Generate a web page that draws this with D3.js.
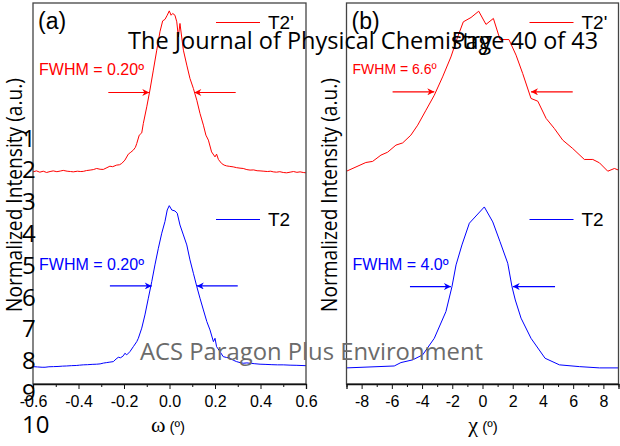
<!DOCTYPE html>
<html><head><meta charset="utf-8">
<script src="https://cdn.jsdelivr.net/npm/d3@7"></script>
<style>body{margin:0;background:#fff}svg{display:block}</style>
</head><body><svg id="c" width="620" height="446"></svg>
<script>
// ---------- data ----------
const omegaX_T2p = [-0.600,-0.585,-0.570,-0.555,-0.540,-0.525,-0.511,-0.495,-0.480,-0.467,-0.450,-0.435,-0.423,-0.405,-0.390,-0.379,-0.365,-0.349,-0.335,-0.320,-0.305,-0.291,-0.275,-0.262,-0.250,-0.232,-0.220,-0.210,-0.196,-0.181,-0.170,-0.159,-0.150,-0.144,-0.133,-0.122,-0.115,-0.100,-0.086,-0.071,-0.056,-0.042,-0.030,-0.020,-0.010,-0.001,0.007,0.014,0.024,0.032,0.039,0.046,0.061,0.076,0.090,0.105,0.120,0.134,0.149,0.160,0.171,0.185,0.200,0.207,0.215,0.229,0.240,0.251,0.265,0.280,0.295,0.310,0.324,0.340,0.354,0.370,0.385,0.398,0.415,0.430,0.445,0.456,0.470,0.485,0.500,0.515,0.530,0.545,0.560,0.574,0.588,0.600];
const omegaY_T2p = [0.008,0.014,0.006,0.012,0.004,0.010,0.014,0.009,0.013,0.017,0.012,0.010,0.008,0.012,0.010,0.011,0.016,0.019,0.022,0.029,0.024,0.023,0.034,0.043,0.040,0.050,0.052,0.060,0.081,0.118,0.130,0.143,0.160,0.184,0.236,0.250,0.309,0.412,0.516,0.640,0.764,0.878,0.946,0.955,0.981,1.008,0.981,0.992,0.981,0.940,0.847,0.930,0.764,0.671,0.588,0.526,0.453,0.371,0.298,0.236,0.205,0.132,0.101,0.118,0.085,0.060,0.050,0.045,0.042,0.039,0.034,0.031,0.029,0.022,0.019,0.020,0.015,0.014,0.012,0.010,0.012,0.008,0.006,0.009,0.004,0.002,0.006,0.010,0.005,0.008,0.004,0.002];

const omegaX_T2 = [-0.600,-0.580,-0.560,-0.547,-0.530,-0.510,-0.490,-0.470,-0.452,-0.430,-0.410,-0.395,-0.379,-0.360,-0.340,-0.320,-0.305,-0.290,-0.276,-0.262,-0.247,-0.235,-0.225,-0.215,-0.203,-0.196,-0.188,-0.174,-0.159,-0.144,-0.137,-0.122,-0.108,-0.093,-0.078,-0.064,-0.049,-0.034,-0.020,-0.010,-0.001,0.010,0.024,0.034,0.046,0.061,0.076,0.090,0.105,0.120,0.134,0.149,0.164,0.178,0.193,0.200,0.207,0.222,0.236,0.250,0.266,0.280,0.295,0.310,0.324,0.340,0.354,0.375,0.398,0.420,0.450,0.475,0.500,0.530,0.560,0.596,0.600];
const omegaY_T2 = [0.008,0.006,0.004,0.004,0.007,0.008,0.009,0.011,0.012,0.014,0.015,0.017,0.019,0.020,0.022,0.023,0.025,0.030,0.033,0.036,0.039,0.055,0.066,0.063,0.075,0.091,0.081,0.101,0.132,0.163,0.184,0.247,0.329,0.433,0.536,0.640,0.743,0.837,0.909,0.981,1.008,0.981,0.975,0.961,0.888,0.826,0.764,0.671,0.588,0.505,0.433,0.360,0.288,0.236,0.163,0.184,0.132,0.101,0.070,0.065,0.060,0.048,0.039,0.033,0.029,0.031,0.029,0.026,0.023,0.022,0.020,0.019,0.019,0.017,0.016,0.014,0.014];

const chiX_T2p = [-9.00,-7.72,-7.27,-6.72,-6.28,-5.73,-5.28,-4.74,-4.29,-3.74,-3.19,-2.64,-2.09,-1.64,-1.27,-0.76,-0.25,0.23,0.72,1.16,1.75,2.22,2.66,3.21,3.66,4.21,4.75,5.31,5.97,6.74,7.30,7.74,8.29,8.73,9.00];
const chiY_T2p = [0.012,0.066,0.073,0.112,0.130,0.174,0.188,0.236,0.298,0.391,0.484,0.598,0.722,0.847,0.940,0.967,1.006,0.924,0.961,0.830,0.830,0.733,0.619,0.464,0.447,0.340,0.278,0.205,0.153,0.085,0.085,0.064,0.012,0.029,0.019];

const chiX_T2 = [-9.00,-5.84,-5.40,-4.62,-3.96,-3.19,-2.42,-2.02,-1.75,-1.36,-0.87,0.12,0.68,1.16,1.67,1.95,2.17,2.55,3.21,4.14,5.09,6.41,7.74,9.00];
const chiY_T2 = [0.000,0.012,0.033,0.050,0.081,0.184,0.350,0.505,0.640,0.764,0.899,1.000,0.907,0.784,0.650,0.505,0.422,0.309,0.184,0.060,0.019,0.008,0.000,0.000];

const offsetT2p = 1.21;

const omegaMajor = [-0.6,-0.4,-0.2,0.0,0.2,0.4,0.6];
const omegaTickLabels = ["-0.6","-0.4","-0.2","0.0","0.2","0.4","0.6"];
const omegaMinor = [-0.5,-0.3,-0.1,0.1,0.3,0.5];
const chiMajor = [-8,-6,-4,-2,0,2,4,6,8];
const chiTickLabels = ["-8","-6","-4","-2","0","2","4","6","8"];
const chiMinor = [-9,-7,-5,-3,-1,1,3,5,7,9];

const seriesNames = ["T2'","T2"];
const seriesColors = ["#ff0000","#0000ff"];

// FWHM annotations: [label, halfMax, leftArrowFrom, leftArrowTo, rightArrowFrom, rightArrowTo]
const fwhmOmega = [["FWHM = 0.20º",0.501,-0.269,-0.089,0.291,0.109],["FWHM = 0.20º",0.509,-0.262,-0.078,0.300,0.120]];
const fwhmChi = [["FWHM = 6.6º",0.505,-5.95,-3.19,5.97,3.21],["FWHM = 4.0º",0.505,-4.80,-2.09,4.80,2.00]];

const lineNumbers = ["1","2","3","4","5","6","7","8","9","10"];

// ---------- drawing ----------
const svg = d3.select("#c");
const TOP = 3, BOTTOM = 384;
const y = d3.scaleLinear([-0.1, 2.267], [BOTTOM, TOP]);
const SANS = "'Liberation Sans', Arial, sans-serif";
const MYR = "'Open Sans', 'Noto Sans', sans-serif";

svg.append("defs").selectAll("marker").data(seriesColors).join("marker")
  .attr("id", (d,i)=>"ah"+i).attr("viewBox","0 0 10 10").attr("refX",10).attr("refY",5)
  .attr("markerWidth",10).attr("markerHeight",7).attr("markerUnits","userSpaceOnUse")
  .attr("orient","auto")
  .append("path").attr("d","M0,0 L10,5 L0,10 L3,5 Z").attr("fill",d=>d);

function panel(opts) {
  const x = d3.scaleLinear(opts.domain, opts.range);
  const g = svg.append("g");
  // curves
  const line = d3.line().x(d=>x(d[0])).y(d=>y(d[1]));
  opts.series.forEach((s,i)=>{
    const pts = s.xs.map((xv,k)=>[xv, s.ys[k] + s.off]);
    g.append("path").datum(pts).attr("d", line).attr("fill","none")
      .attr("stroke", seriesColors[i]).attr("stroke-width",1).attr("stroke-linejoin","round");
  });
  // frame
  g.append("rect").attr("x",opts.range[0]).attr("y",TOP)
    .attr("width",opts.range[1]-opts.range[0]).attr("height",BOTTOM-TOP)
    .attr("fill","none").attr("stroke","#444").attr("stroke-width",1.3);
  // axes
  const ax = g.append("g").attr("transform",`translate(0,${BOTTOM})`)
    .call(d3.axisBottom(x).tickValues(opts.major).tickSize(5).tickPadding(6.5)
      .tickFormat((d,i)=>opts.labels[i]));
  ax.select(".domain").attr("stroke","#111").attr("stroke-width",1.3);
  ax.selectAll(".tick line").attr("stroke","#111").attr("stroke-width",1);
  ax.selectAll(".tick text").attr("font-family",SANS).attr("font-size",16).attr("fill","#000");
  const mn = g.append("g").attr("transform",`translate(0,${BOTTOM})`)
    .call(d3.axisBottom(x).tickValues(opts.minor).tickSize(3).tickFormat(""));
  mn.select(".domain").remove();
  mn.selectAll(".tick line").attr("stroke","#111").attr("stroke-width",1);
  // FWHM annotations
  opts.fwhm.forEach((f,i)=>{
    const off = i===0 ? offsetT2p : 0;
    const yy = y(f[1]+off);
    g.append("line").attr("x1",x(f[2])).attr("x2",x(f[3])).attr("y1",yy).attr("y2",yy)
      .attr("stroke",seriesColors[i]).attr("stroke-width",1.2).attr("marker-end",`url(#ah${i})`);
    g.append("line").attr("x1",x(f[4])).attr("x2",x(f[5])).attr("y1",yy).attr("y2",yy)
      .attr("stroke",seriesColors[i]).attr("stroke-width",1.2).attr("marker-end",`url(#ah${i})`);
    g.append("text").attr("x",opts.fwhmX).attr("y",opts.fwhmY[i])
      .attr("font-family",SANS).attr("font-size",opts.fwhmSize[i]).attr("fill",seriesColors[i]).text(f[0]);
  });
  // legend
  seriesNames.forEach((n,i)=>{
    g.append("line").attr("x1",opts.legX).attr("x2",opts.legX+44)
      .attr("y1",opts.legY[i]).attr("y2",opts.legY[i])
      .attr("stroke",seriesColors[i]).attr("stroke-width",1.2);
    g.append("text").attr("x",opts.legX+52).attr("y",opts.legY[i]+6)
      .attr("font-family",SANS).attr("font-size",19).attr("fill","#000").text(n);
  });
  // panel label
  g.append("text").attr("x",opts.range[0]+5).attr("y",29).attr("font-family",SANS)
    .attr("font-size",23).text(opts.tag);
  // y title
  g.append("text").attr("transform",`translate(${opts.yTitleX},195) rotate(-90)`)
    .attr("text-anchor","middle").attr("font-family",MYR).attr("font-size",21)
    .attr("textLength",234).attr("lengthAdjust","spacingAndGlyphs").text("Normalized Intensity (a.u.)");
  // x title
  const xt = g.append("text").attr("x",opts.xTitleX).attr("y",432).attr("text-anchor","middle");
  xt.append("tspan").attr("font-family","'Liberation Serif', 'DejaVu Serif', serif").attr("font-size",22).text(opts.sym);
  xt.append("tspan").attr("font-family",SANS).attr("font-size",15).text(" (º)");
}

panel({domain:[-0.6,0.6], range:[33,306], major:omegaMajor, minor:omegaMinor, labels:omegaTickLabels,
  series:[{xs:omegaX_T2p, ys:omegaY_T2p, off:offsetT2p},{xs:omegaX_T2, ys:omegaY_T2, off:0}],
  fwhm:fwhmOmega, fwhmX:39, fwhmY:[75,269.5], fwhmSize:[16,16],
  legX:216, legY:[22.5,219.5], tag:"(a)", yTitleX:21.5, xTitleX:168, sym:"ω"});

panel({domain:[-9,9], range:[346.5,618.5], major:chiMajor, minor:chiMinor, labels:chiTickLabels,
  series:[{xs:chiX_T2p, ys:chiY_T2p, off:offsetT2p},{xs:chiX_T2, ys:chiY_T2, off:0}],
  fwhm:fwhmChi, fwhmX:352.5, fwhmY:[73.5,270], fwhmSize:[14,16],
  legX:529.5, legY:[22.5,219.5], tag:"(b)", yTitleX:336.5, xTitleX:483, sym:"χ"});

// ---------- page overlay (from the source document) ----------
const ov = svg.append("g");
ov.append("text").attr("x",128).attr("y",48.5).attr("font-family",MYR).attr("font-size",23)
  .attr("textLength",364).attr("lengthAdjust","spacingAndGlyphs").text("The Journal of Physical Chemistry");
ov.append("text").attr("x",451.5).attr("y",48.5).attr("font-family",MYR).attr("font-size",23)
  .attr("textLength",146.5).attr("lengthAdjust","spacingAndGlyphs").text("Page 40 of 43");
ov.selectAll("text.ln").data(lineNumbers).join("text").attr("class","ln")
  .attr("x",22).attr("y",(d,i)=>146.6+i*31.8).attr("font-family",MYR).attr("font-size",24).text(d=>d);
ov.append("text").attr("x",140).attr("y",360).attr("font-family",MYR).attr("font-size",24)
  .attr("fill","#6b6b6b").attr("textLength",343).attr("lengthAdjust","spacingAndGlyphs")
  .text("ACS Paragon Plus Environment");
</script></body></html>
